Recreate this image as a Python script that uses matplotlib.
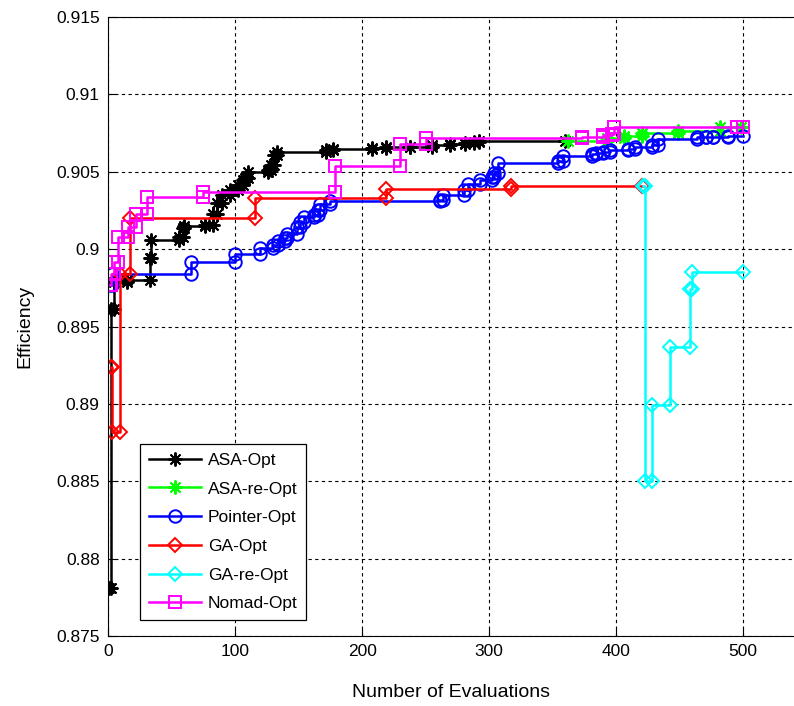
import numpy as np
import matplotlib
matplotlib.use("Agg")
import matplotlib.pyplot as plt

plt.rcParams['font.family'] = ['Liberation Sans', 'DejaVu Sans']

# best-so-far efficiency at each improvement (evaluation, value), plus last evaluation
asa_x = [1, 2, 5, 15, 33, 34, 56, 59, 60, 76, 83, 86, 90, 96, 102, 106, 108, 110,
         126, 128, 131, 133, 172, 177, 208, 219, 238, 255, 269, 281, 288, 292]
asa_y = [0.8781, 0.8961, 0.8979, 0.8980, 0.8994, 0.9006, 0.9008, 0.90135, 0.9015,
         0.90155, 0.9023, 0.9030, 0.90348, 0.9038, 0.90413, 0.90445, 0.90458, 0.9050,
         0.9051, 0.90542, 0.90607, 0.90628, 0.9064, 0.9065, 0.90652, 0.90658, 0.9066,
         0.9067, 0.90678, 0.90685, 0.9069, 0.9070]
asa_end = 360

asare_x = [362, 393, 406, 420, 449, 482]
asare_y = [0.9070, 0.9072, 0.9073, 0.9075, 0.9076, 0.9079]
asare_end = 498

ptr_x = [1, 3, 65, 100, 120, 130, 134, 139, 141, 149, 151, 154, 162, 165, 167, 175,
         261, 264, 280, 283, 293, 302, 304, 307, 354, 358, 381, 384, 390, 395, 409,
         415, 428, 433, 464, 471, 476, 488]
ptr_y = [0.8977, 0.8984, 0.8992, 0.8997, 0.9001, 0.90025, 0.9005, 0.9007, 0.9010,
         0.9014, 0.90176, 0.9021, 0.9022, 0.90252, 0.9029, 0.9031, 0.90316, 0.9035,
         0.9038, 0.9042, 0.90445, 0.90465, 0.9049, 0.90555, 0.9057, 0.9060, 0.90615,
         0.9062, 0.90628, 0.90638, 0.90645, 0.90658, 0.9067, 0.9071, 0.90722, 0.90724,
         0.90726, 0.9073]
ptr_end = 500

ga_x = [2, 3, 9.5, 17, 116, 219, 317]
ga_y = [0.8924, 0.8882, 0.8984, 0.9020, 0.9033, 0.9039, 0.9041]
ga_end = 420

gare_x = [421, 423, 428, 442, 458, 460]
gare_y = [0.9041, 0.8850, 0.8899, 0.8937, 0.8974, 0.8985]
gare_end = 500

nomad_x = [1.5, 2, 5, 8, 16, 22, 31, 75, 179, 230, 250, 373, 390, 397, 398, 495]
nomad_y = [0.8977, 0.8984, 0.8992, 0.9008, 0.9014, 0.9023, 0.9034, 0.9037, 0.9054,
           0.9068, 0.9072, 0.90722, 0.90735, 0.90745, 0.9079, 0.90792]
nomad_end = 500

labels = ['ASA-Opt', 'ASA-re-Opt', 'Pointer-Opt', 'GA-Opt', 'GA-re-Opt', 'Nomad-Opt']


def stairs(xs, ys, x_end):
    px, py = [xs[0]], [ys[0]]
    for i in range(1, len(xs)):
        px += [xs[i], xs[i]]
        py += [ys[i - 1], ys[i]]
    px.append(x_end)
    py.append(ys[-1])
    return px, py


fig = plt.figure(figsize=(7.94, 7.06), dpi=100)
ax = fig.add_axes([0.136, 0.099, 0.864, 0.877])

series = [
    (asa_x, asa_y, asa_end, 'k', (8, 2, 0), 10),
    (asare_x, asare_y, asare_end, (0, 1, 0), (8, 2, 0), 10),
    (ptr_x, ptr_y, ptr_end, (0, 0, 1), 'o', 9),
    (ga_x, ga_y, ga_end, (1, 0, 0), 'D', 7),
    (gare_x, gare_y, gare_end, (0, 1, 1), 'D', 7),
    (nomad_x, nomad_y, nomad_end, (1, 0, 1), 's', 8.5),
]

for (xs, ys, xe, c, m, ms), lab in zip(series, labels):
    px, py = stairs(xs, ys, xe)
    ax.plot(px, py, color=c, lw=1.8, marker=m, ms=ms,
            mfc=c if isinstance(m, tuple) else 'none',
            mec=c, mew=1.4, label=lab)

ax.set_xlim(0, 540)
ax.set_ylim(0.875, 0.915)
ax.set_xticks(np.arange(0, 501, 100))
ax.set_yticks(np.arange(0.875, 0.9151, 0.005))
ax.set_yticklabels(['0.875', '0.88', '0.885', '0.89', '0.895', '0.9', '0.905', '0.91', '0.915'])
ax.tick_params(direction='in', labelsize=12.5, length=6, top=False, right=False, pad=6)
ax.grid(True, color='k', ls=(0, (3, 3)), lw=0.8)
ax.set_axisbelow(True)
ax.spines['right'].set_visible(False)

ax.set_xlabel('Number of Evaluations', fontsize=14, labelpad=18)
ax.set_ylabel('Efficiency', fontsize=14, labelpad=16)

leg = ax.legend(loc='lower left', bbox_to_anchor=(0.047, 0.026), borderaxespad=0,
                fontsize=12.5, handlelength=3.0, labelspacing=0.78, fancybox=False,
                framealpha=1, edgecolor='k', borderpad=0.5, handletextpad=0.4)
leg.get_frame().set_linewidth(0.9)

fig.savefig('out.png', dpi=100)
